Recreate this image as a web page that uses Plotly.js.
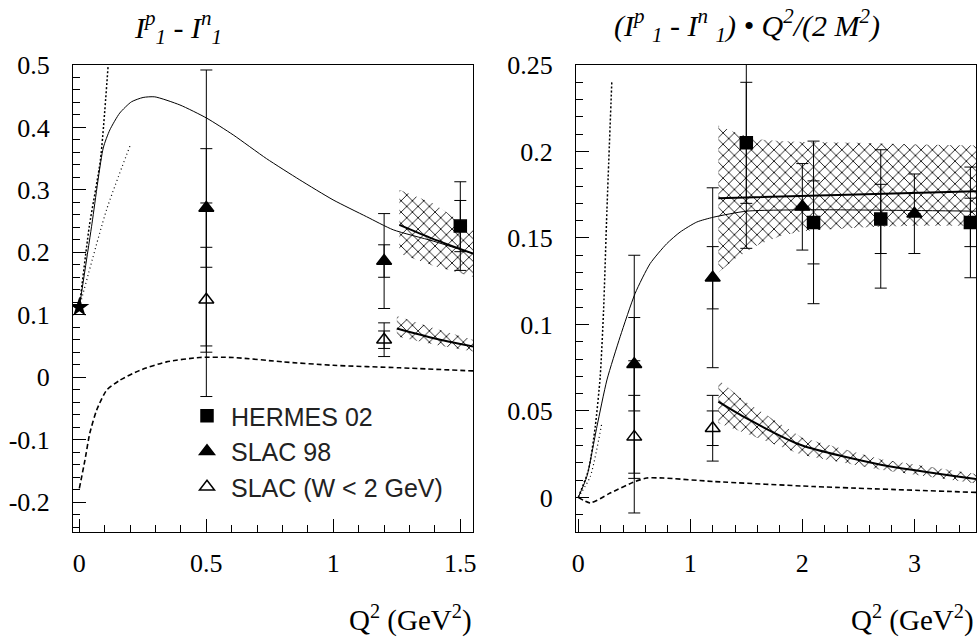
<!DOCTYPE html>
<html>
<head>
<meta charset="utf-8">
<script src="https://cdn.plot.ly/plotly-3.0.1.min.js"></script>
<style>
html,body{margin:0;padding:0;background:#fff;}
#chart{width:977px;height:638px;}
#chart .xtick text, #chart .ytick text, #chart .x2tick text, #chart .y2tick text {
  font-family: "Liberation Serif", serif !important; font-size: 26px !important; fill: #000 !important;
}
</style>
</head>
<body>
<div id="chart"></div>
<script>
// ---------------- LEFT PANEL DATA: I1p - I1n ----------------
const gdhQ2 = [0];
const gdhL = [0.112];

const hermesL_Q2 = [1.5];
const hermesL = [0.242];
const hermesL_stat = [0.041];
const hermesL_tot = [0.071];

const slac98L_Q2 = [0.5, 1.2];
const slac98L = [0.271, 0.186];
const slac98L_stat = [0.095, 0.026];
const slac98L_tot = [0.221, 0.076];

const slacWL_Q2 = [0.5, 1.2];
const slacWL = [0.124, 0.060];
const slacWL_stat = [0.084, 0.014];
const slacWL_tot = [0.155, 0.027];

const modelL_Q2 = [0, 0.048, 0.094, 0.12, 0.159, 0.205, 0.251, 0.297, 0.396, 0.501, 0.606, 0.737, 0.868, 0.999, 1.131, 1.236, 1.393, 1.55];
const modelL = [0.112, 0.241, 0.367, 0.396, 0.423, 0.441, 0.448, 0.449, 0.436, 0.415, 0.388, 0.350, 0.316, 0.284, 0.257, 0.236, 0.218, 0.198];

const dotSteepL_Q2 = [0, 0.039, 0.083, 0.113];
const dotSteepL = [0.112, 0.241, 0.348, 0.497];
const dotLowL_Q2 = [0, 0.107, 0.199];
const dotLowL = [0.112, 0.268, 0.370];

const dashL_Q2 = [0, 0.022, 0.041, 0.068, 0.107, 0.159, 0.238, 0.343, 0.474, 0.606, 0.802, 0.999, 1.262, 1.55];
const dashL = [-0.178, -0.133, -0.090, -0.053, -0.021, -0.005, 0.011, 0.0245, 0.0315, 0.0315, 0.0245, 0.019, 0.015, 0.010];

const bandHiL_Q2 = [1.26, 1.39, 1.55];
const bandHiL_top = [0.300, 0.279, 0.236];
const bandHiL_bot = [0.198, 0.179, 0.161];
const bandHiL_mid = [0.244, 0.222, 0.198];

const bandLoL_Q2 = [1.25, 1.4, 1.55];
const bandLoL_top = [0.098, 0.078, 0.060];
const bandLoL_bot = [0.065, 0.052, 0.041];
const bandLoL_mid = [0.078, 0.062, 0.049];

// ---------------- RIGHT PANEL DATA: (I1p - I1n) Q2/(2M2) ----------------
const hermesR_Q2 = [1.5, 2.1, 2.7, 3.5];
const hermesR = [0.205, 0.159, 0.161, 0.159];
const hermesR_stat = [0.035, 0.024, 0.020, 0.014];
const hermesR_tot = [0.061, 0.047, 0.040, 0.032];

const slac98R_Q2 = [0.5, 1.2, 2.0, 3.0];
const slac98R = [0.077, 0.127, 0.168, 0.164];
const slac98R_stat = [0.027, 0.018, null, null];
const slac98R_tot = [0.063, 0.052, 0.025, 0.023];

const slacWR_Q2 = [0.5, 1.2];
const slacWR = [0.035, 0.040];
const slacWR_stat = [0.024, 0.010];
const slacWR_tot = [0.044, 0.019];

const modelR_Q2 = [0, 0.077, 0.167, 0.256, 0.374, 0.508, 0.642, 0.79, 0.909, 1.058, 1.206, 1.503, 2.097, 2.8, 3.55];
const modelR = [0, 0.0121, 0.041, 0.0679, 0.0929, 0.118, 0.1352, 0.1467, 0.1534, 0.1592, 0.162, 0.1655, 0.1663, 0.166, 0.1655];

const dotSteepR_Q2 = [0, 0.092, 0.152, 0.196, 0.226, 0.256, 0.30];
const dotSteepR = [0, 0.016, 0.041, 0.0698, 0.108, 0.166, 0.241];
const dotLowR_Q2 = [0, 0.107, 0.211];
const dotLowR = [0, 0.012, 0.043];

const dashR_Q2 = [0, 0.107, 0.285, 0.508, 0.612, 0.76, 1.206, 2.097, 3.55];
const dashR = [0, -0.0032, 0.0025, 0.0092, 0.0112, 0.0112, 0.0092, 0.0063, 0.0029];

const bandHiR_Q2 = [1.25, 1.4, 1.6, 1.8, 2.0, 2.5, 3.0, 3.55];
const bandHiR_top = [0.215, 0.211, 0.207, 0.206, 0.2055, 0.205, 0.204, 0.2035];
const bandHiR_bot = [0.130, 0.138, 0.146, 0.151, 0.154, 0.156, 0.157, 0.157];
const bandHiR_midQ2 = [1.25, 2.4, 3.55];
const bandHiR_mid = [0.173, 0.175, 0.177];

const bandLoR_Q2 = [1.25, 1.5, 2.0, 2.7, 3.55];
const bandLoR_top = [0.068, 0.055, 0.0345, 0.022, 0.0135];
const bandLoR_bot = [0.043, 0.037, 0.0245, 0.016, 0.008];
const bandLoR_mid = [0.0554, 0.0458, 0.030, 0.0189, 0.0106];

// ---------------- TICKS ----------------
const yTickValsL = [-0.2, -0.1, 0, 0.1, 0.2, 0.3, 0.4, 0.5];
const yTickTextL = ['-0.2', '-0.1', '0', '0.1', '0.2', '0.3', '0.4', '0.5'];
const xTickValsL = [0, 0.5, 1, 1.5];
const xTickTextL = ['0', '0.5', '1', '1.5'];
const yTickValsR = [0, 0.05, 0.1, 0.15, 0.2, 0.25];
const yTickTextR = ['0', '0.05', '0.1', '0.15', '0.2', '0.25'];
const xTickValsR = [0, 1, 2, 3];
const xTickTextR = ['0', '1', '2', '3'];

const legendNames = ['HERMES 02', 'SLAC 98', 'SLAC (W < 2 GeV)'];

// ---------------- BUILD ----------------
const traces = [];
function band(xs, top, bot, xa, ya) {
  traces.push({
    x: xs.concat(xs.slice().reverse()),
    y: top.concat(bot.slice().reverse()),
    xaxis: xa, yaxis: ya, mode: 'lines', fill: 'toself',
    line: {width: 0, color: 'rgba(0,0,0,0)'},
    fillcolor: 'rgba(0,0,0,0)',
    fillpattern: {shape: 'x', size: 8, solidity: 0.2, fgcolor: '#000', bgcolor: 'rgba(0,0,0,0)'},
    showlegend: false, hoverinfo: 'skip'
  });
}
function line(xs, ys, xa, ya, width, dash) {
  traces.push({x: xs, y: ys, xaxis: xa, yaxis: ya, mode: 'lines',
    line: {color: '#000', width: width, dash: dash || 'solid', shape: 'spline', smoothing: 0.6},
    showlegend: false, hoverinfo: 'skip'});
}
function points(xs, ys, stat, tot, xa, ya, symbol, size, name, showleg, rank) {
  traces.push({x: xs, y: ys, xaxis: xa, yaxis: ya, mode: 'markers',
    marker: {size: 1, color: 'rgba(0,0,0,0)'},
    error_y: {type: 'data', array: tot, visible: true, color: '#000', thickness: 1, width: 6},
    showlegend: false, hoverinfo: 'skip'});
  traces.push({x: xs, y: ys, xaxis: xa, yaxis: ya, mode: 'markers', name: name,
    marker: {symbol: symbol, size: size, color: '#000', line: {color: '#000', width: 1.5}},
    error_y: {type: 'data', array: stat, visible: true, color: '#000', thickness: 1, width: 6},
    showlegend: showleg, legendrank: rank, legendgroup: 'g' + rank, hoverinfo: 'skip'});
}

// left
band(bandHiL_Q2, bandHiL_top, bandHiL_bot, 'x', 'y');
band(bandLoL_Q2, bandLoL_top, bandLoL_bot, 'x', 'y');
line(modelL_Q2, modelL, 'x', 'y', 1);
line(dotSteepL_Q2, dotSteepL, 'x', 'y', 1.5, '2px,2px');
line(dotLowL_Q2, dotLowL, 'x', 'y', 1.2, '1px,3px');
line(dashL_Q2, dashL, 'x', 'y', 1.6, '5px,3px');
line(bandHiL_Q2, bandHiL_mid, 'x', 'y', 2);
line(bandLoL_Q2, bandLoL_mid, 'x', 'y', 2);
points(slac98L_Q2, slac98L, slac98L_stat, slac98L_tot, 'x', 'y', 'triangle-up', 13, legendNames[1], true, 2);
points(slacWL_Q2, slacWL, slacWL_stat, slacWL_tot, 'x', 'y', 'triangle-up-open', 13, legendNames[2], true, 3);
points(hermesL_Q2, hermesL, hermesL_stat, hermesL_tot, 'x', 'y', 'square', 12, legendNames[0], true, 1);
traces.push({x: gdhQ2, y: gdhL, xaxis: 'x', yaxis: 'y', mode: 'markers',
  marker: {symbol: 'star', size: 15, color: '#000'}, showlegend: false, hoverinfo: 'skip'});

// right
band(bandHiR_Q2, bandHiR_top, bandHiR_bot, 'x2', 'y2');
band(bandLoR_Q2, bandLoR_top, bandLoR_bot, 'x2', 'y2');
line(modelR_Q2, modelR, 'x2', 'y2', 1);
line(dotSteepR_Q2, dotSteepR, 'x2', 'y2', 1.5, '2px,2px');
line(dotLowR_Q2, dotLowR, 'x2', 'y2', 1.2, '1px,3px');
line(dashR_Q2, dashR, 'x2', 'y2', 1.6, '5px,3px');
line(bandHiR_midQ2, bandHiR_mid, 'x2', 'y2', 2);
line(bandLoR_Q2, bandLoR_mid, 'x2', 'y2', 2);
points(slac98R_Q2, slac98R, slac98R_stat, slac98R_tot, 'x2', 'y2', 'triangle-up', 13, legendNames[1], false, 2);
points(slacWR_Q2, slacWR, slacWR_stat, slacWR_tot, 'x2', 'y2', 'triangle-up-open', 13, legendNames[2], false, 3);
points(hermesR_Q2, hermesR, hermesR_stat, hermesR_tot, 'x2', 'y2', 'square', 12, legendNames[0], false, 1);

const W = 977, H = 638;
const SERIF = 'Liberation Serif';
function axis(domain, range, tv, tt, minorDtick, extra) {
  return Object.assign({
    domain: domain, range: range, tickmode: 'array', tickvals: tv, ticktext: tt,
    ticks: 'inside', ticklen: 13, tickwidth: 1, tickcolor: '#000',
    minor: {tickmode: 'linear', tick0: 0, dtick: minorDtick, ticks: 'inside', ticklen: 7, tickwidth: 1, tickcolor: '#000', showgrid: false},
    showline: true, linecolor: '#000', linewidth: 1, mirror: true,
    showgrid: false, zeroline: false,
    tickfont: {family: SERIF, size: 26, color: '#000'}, fixedrange: true
  }, extra || {});
}
const xdL = [73 / W, 473 / W], xdR = [576 / W, 976 / W];
const yd = [1 - 532 / H, 1 - 65 / H];

const layout = {
  width: W, height: H,
  margin: {l: 0, r: 0, t: 0, b: 0},
  font: {family: SERIF, size: 26, color: '#000'},
  paper_bgcolor: '#fff', plot_bgcolor: '#fff',
  xaxis: axis(xdL, [-0.025, 1.55], xTickValsL, xTickTextL, 0.1, {anchor: 'y', ticklabelstandoff: 8}),
  yaxis: axis(yd, [-0.248, 0.5], yTickValsL, yTickTextL, 0.02, {anchor: 'x', ticklabelstandoff: 17}),
  xaxis2: axis(xdR, [-0.02, 3.55], xTickValsR, xTickTextR, 0.2, {anchor: 'y2', ticklabelstandoff: 8}),
  yaxis2: axis(yd, [-0.02, 0.25], yTickValsR, yTickTextR, 0.01, {anchor: 'x2', ticklabelstandoff: 17}),
  showlegend: true,
  legend: {x: 183 / W, y: 1 - 393 / H, xanchor: 'left', yanchor: 'top', itemwidth: 38,
    bgcolor: 'rgba(0,0,0,0)', borderwidth: 0, tracegroupgap: 10, traceorder: 'normal',
    font: {family: 'Liberation Sans', size: 25, color: '#222'}},
  annotations: [
    {xref: 'paper', yref: 'paper', x: 178 / W, y: 1 - 27 / H, xanchor: 'center', yanchor: 'middle', showarrow: false,
     text: '<i>I<sup>p</sup><sub>1</sub> - I<sup>n</sup><sub>1</sub></i>',
     font: {family: SERIF, size: 30, color: '#000'}},
    {xref: 'paper', yref: 'paper', x: 747 / W, y: 1 - 25 / H, xanchor: 'center', yanchor: 'middle', showarrow: false,
     text: '<i>(I<sup>p</sup> <sub>1</sub> - I<sup>n</sup> <sub>1</sub>) &#8226; Q<sup>2</sup>/(2 M<sup>2</sup>)</i>',
     font: {family: SERIF, size: 30, color: '#000'}},
    {xref: 'paper', yref: 'paper', x: 474 / W, y: 1 - 618 / H, xanchor: 'right', yanchor: 'middle', showarrow: false,
     text: 'Q<sup>2</sup> (GeV<sup>2</sup>)',
     font: {family: SERIF, size: 29, color: '#000'}},
    {xref: 'paper', yref: 'paper', x: 976 / W, y: 1 - 618 / H, xanchor: 'right', yanchor: 'middle', showarrow: false,
     text: 'Q<sup>2</sup> (GeV<sup>2</sup>)',
     font: {family: SERIF, size: 29, color: '#000'}}
  ]
};

Plotly.newPlot('chart', traces, layout, {staticPlot: true, displayModeBar: false});
</script>
</body>
</html>
